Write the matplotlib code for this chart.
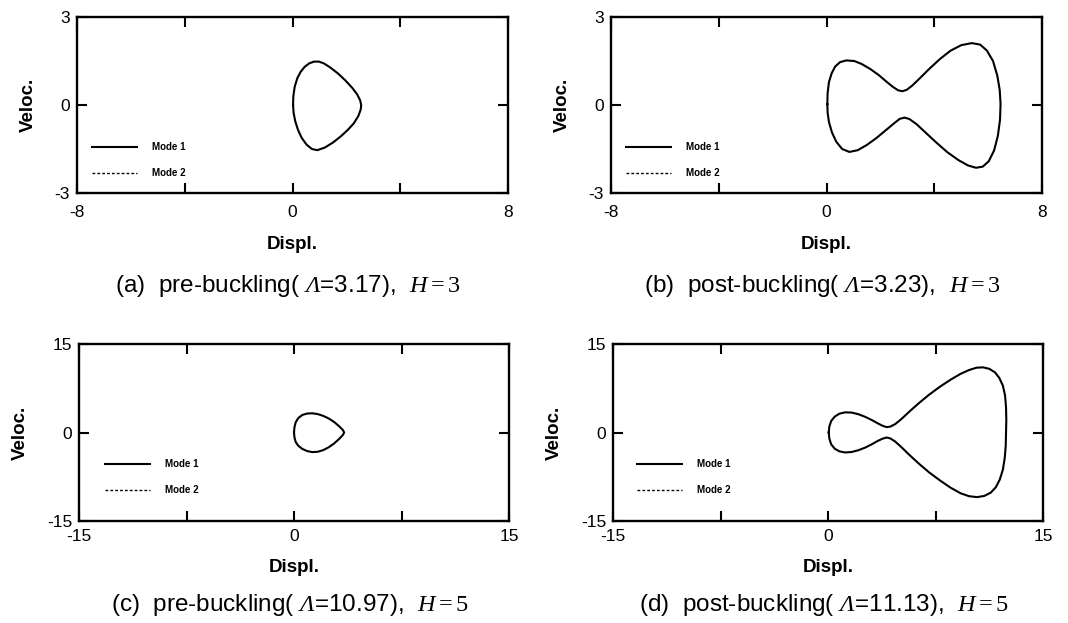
import matplotlib
matplotlib.use("Agg")
import matplotlib.pyplot as plt

# ----------------------------------------------------------
# Datos (desplazamiento, velocidad)
# ----------------------------------------------------------

A_DISP = [0.02, 0.03, 0.08, 0.18, 0.30, 0.45, 0.62, 0.80, 0.98, 1.16, 1.40, 1.68,
          1.96, 2.22, 2.40, 2.51, 2.55, 2.53, 2.44, 2.27, 2.05, 1.79, 1.50, 1.20,
          0.92, 0.72, 0.52, 0.34, 0.20, 0.10, 0.04, 0.02]
A_VEL = [0.0, 0.30, 0.62, 0.92, 1.13, 1.30, 1.42, 1.48, 1.48, 1.42, 1.28, 1.08,
         0.84, 0.58, 0.36, 0.16, 0.0, -0.16, -0.38, -0.63, -0.85, -1.07, -1.28,
         -1.45, -1.54, -1.50, -1.35, -1.12, -0.84, -0.55, -0.27, 0.0]

B_DISP = [0.03, 0.04, 0.09, 0.19, 0.32, 0.50, 0.73, 1.03, 1.30, 1.62, 1.94, 2.22,
          2.46, 2.66, 2.82, 2.98, 3.18, 3.45, 3.80, 4.20, 4.60, 5.00, 5.39, 5.70,
          5.95, 6.18, 6.34, 6.43, 6.46, 6.44, 6.36, 6.22, 6.02, 5.80, 5.55, 5.25,
          4.90, 4.50, 4.10, 3.70, 3.35, 3.08, 2.90, 2.72, 2.50, 2.20, 1.86, 1.50,
          1.16, 0.85, 0.58, 0.36, 0.20, 0.09, 0.04, 0.03]
B_VEL = [0.03, 0.40, 0.78, 1.08, 1.31, 1.46, 1.52, 1.50, 1.40, 1.23, 1.02, 0.80,
         0.62, 0.50, 0.47, 0.52, 0.66, 0.90, 1.22, 1.56, 1.85, 2.04, 2.11, 2.06,
         1.86, 1.50, 1.00, 0.50, 0.03, -0.50, -1.05, -1.55, -1.92, -2.10, -2.14,
         -2.06, -1.88, -1.62, -1.30, -0.96, -0.66, -0.48, -0.43, -0.47, -0.63,
         -0.86, -1.12, -1.36, -1.54, -1.60, -1.50, -1.25, -0.93, -0.58, -0.26, 0.03]

C_DISP = [0.0, 0.03, 0.12, 0.30, 0.58, 0.92, 1.28, 1.66, 2.04, 2.42, 2.80, 3.14,
          3.40, 3.50, 3.40, 3.14, 2.80, 2.42, 2.04, 1.66, 1.28, 0.92, 0.58, 0.30,
          0.12, 0.03, 0.0]
C_VEL = [0.0, 0.90, 1.75, 2.45, 2.98, 3.22, 3.26, 3.12, 2.82, 2.38, 1.78, 1.08,
         0.45, 0.0, -0.45, -1.10, -1.85, -2.50, -2.98, -3.26, -3.32, -3.15, -2.78,
         -2.25, -1.62, -0.85, 0.0]

D_DISP = [0.05, 0.09, 0.22, 0.47, 0.80, 1.20, 1.65, 2.12, 2.60, 3.05, 3.45, 3.80,
          4.08, 4.35, 4.70, 5.15, 5.70, 6.35, 7.05, 7.80, 8.55, 9.25, 9.85, 10.35,
          10.80, 11.25, 11.65, 11.95, 12.20, 12.35, 12.42, 12.44, 12.42, 12.40,
          12.33, 12.20, 11.98, 11.70, 11.35, 10.90, 10.40, 9.85, 9.25, 8.55, 7.80,
          7.05, 6.35, 5.70, 5.15, 4.70, 4.35, 4.08, 3.80, 3.45, 3.05, 2.60, 2.12,
          1.65, 1.20, 0.80, 0.47, 0.22, 0.09, 0.05]
D_VEL = [0.0, 1.0, 1.95, 2.70, 3.20, 3.42, 3.38, 3.10, 2.65, 2.12, 1.58, 1.15,
         0.92, 1.00, 1.45, 2.35, 3.60, 5.00, 6.40, 7.75, 8.95, 9.95, 10.60, 10.98,
         11.05, 10.80, 10.20, 9.25, 7.95, 6.30, 4.30, 2.20, 0.0, -2.20, -4.30,
         -6.30, -8.00, -9.30, -10.20, -10.75, -10.95, -10.80, -10.30, -9.35, -8.10,
         -6.75, -5.30, -3.85, -2.55, -1.55, -1.00, -0.85, -1.05, -1.45, -2.00,
         -2.55, -3.00, -3.30, -3.38, -3.20, -2.75, -2.00, -1.00, 0.0]

MODE2_DISP = []
MODE2_VEL = []

CAPTIONS = [
    r"(a)  pre-buckling( $\mathsf{\Lambda}$=3.17),  $H=3$",
    r"(b)  post-buckling( $\mathsf{\Lambda}$=3.23),  $H=3$",
    r"(c)  pre-buckling( $\mathsf{\Lambda}$=10.97),  $H=5$",
    r"(d)  post-buckling( $\mathsf{\Lambda}$=11.13),  $H=5$",
]

plt.rcParams["font.family"] = ["Liberation Sans", "DejaVu Sans"]
plt.rcParams["mathtext.fontset"] = "custom"
plt.rcParams["mathtext.rm"] = "Liberation Serif"
plt.rcParams["mathtext.it"] = "Liberation Serif:italic"
plt.rcParams["mathtext.sf"] = "Liberation Serif:italic"

fig = plt.figure(figsize=(10.68, 6.23), dpi=100)

# posicion, datos, limites, pads y leyenda por panel
paneles = [
    ([0.0721, 0.6902, 0.4036, 0.2825], A_DISP, A_VEL, 8, 3, 8.6, 11.5, (0.035, 0.085), -0.53),
    ([0.5721, 0.6902, 0.4036, 0.2825], B_DISP, B_VEL, 8, 3, 8.6, 11.5, (0.035, 0.085), -0.53),
    ([0.0740, 0.1637, 0.4026, 0.2841], C_DISP, C_VEL, 15, 15, 5.8, 11.0, (0.060, 0.147), -0.475),
    ([0.5740, 0.1637, 0.4026, 0.2841], D_DISP, D_VEL, 15, 15, 5.8, 11.0, (0.056, 0.147), -0.475),
]

for i, (pos, xs, vs, xl, yl, xpad, lpad, ley_pos, cap_y) in enumerate(paneles):

    ax = fig.add_axes(pos)

    ax.plot(xs, vs, "-", color="black", lw=1.5, label="Mode 1")
    ax.plot(MODE2_DISP, MODE2_VEL, color="black", lw=1.0,
            linestyle=(0, (2.0, 1.5)), label="Mode 2")

    ax.set_xlim(-xl, xl)
    ax.set_ylim(-yl, yl)

    ax.set_xticks([-xl, -xl / 2, 0, xl / 2, xl])
    ax.set_xticklabels([f"{-xl:g}", "", "0", "", f"{xl:g}"])
    ax.set_yticks([-yl, 0, yl])
    ax.set_yticklabels([f"{-yl:g}", "0", f"{yl:g}"])

    ax.tick_params(direction="in", length=7, width=1.5, top=True, right=True,
                   labelsize=12.5)
    ax.tick_params(axis="x", pad=xpad)
    ax.tick_params(axis="y", pad=5)
    for s in ax.spines.values():
        s.set_linewidth(1.7)

    ax.set_xlabel("Displ.", fontsize=13.5, fontweight="bold", labelpad=lpad)
    ax.set_ylabel("Veloc.", fontsize=13.5, fontweight="bold", labelpad=13)

    ax.legend(loc="lower left", bbox_to_anchor=ley_pos,
              frameon=False, handlelength=4.6,
              handletextpad=1.6, labelspacing=1.6, borderpad=0,
              borderaxespad=0, prop={"weight": "bold", "size": 7})

    ax.text(0.49, cap_y, CAPTIONS[i], transform=ax.transAxes, ha="center",
            va="center", fontsize=17.5)

fig.savefig("out.png", dpi=100)
